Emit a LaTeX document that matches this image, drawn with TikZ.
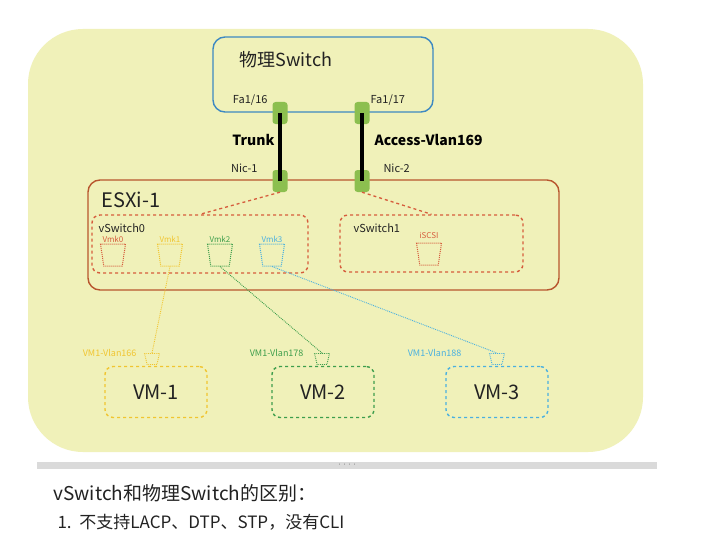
\documentclass[tikz,border=0pt]{standalone}
\usepackage{fontspec}
\setmainfont{Noto Sans CJK SC}
\usetikzlibrary{positioning,shapes.geometric}

\definecolor{bgyellow}{HTML}{F0F1B9}
\definecolor{physblue}{HTML}{3D89C2}
\definecolor{hostred}{HTML}{B8562E}
\definecolor{dashred}{HTML}{D65C3C}
\definecolor{portgreen}{HTML}{8CBF4F}
\definecolor{vmyellow}{HTML}{F0C530}
\definecolor{vmgreen}{HTML}{3E9E4C}
\definecolor{vmblue}{HTML}{4AB0E0}
\definecolor{bargray}{HTML}{DADADA}
\definecolor{inkdark}{HTML}{222222}

\begin{document}
\begin{tikzpicture}[x=1pt, y=-1pt,
  panel/.style={fill=bgyellow, rounded corners=55pt, minimum width=615pt, minimum height=423pt},
  physbox/.style={draw=physblue, line width=1.4pt, rounded corners=12pt},
  hostbox/.style={draw=hostred, line width=1.4pt, rounded corners=12pt},
  vswbox/.style={draw=dashred, dashed, line width=1.4pt, rounded corners=8pt},
  vmbox/.style={dashed, line width=1.4pt, rounded corners=8pt, minimum width=102pt, minimum height=51pt, text=inkdark, font=\fontsize{20}{22}\selectfont},
  port/.style={fill=portgreen, rounded corners=3pt, minimum width=15pt, minimum height=22pt, inner sep=0pt},
  trunkline/.style={line width=3.5pt, black},
  uplink/.style={draw=dashred, dashed, line width=1.3pt},
  vmlink/.style={densely dotted, line width=0.9pt},
  cup/.style={shape=trapezium, shape border rotate=180, trapezium angle=80, trapezium stretches=true, minimum width=25pt, minimum height=22pt, inner sep=1pt, densely dotted, line width=1pt},
  smallcup/.style={shape=trapezium, shape border rotate=180, trapezium angle=75, trapezium stretches=true, minimum width=15pt, minimum height=11pt, inner sep=1pt, densely dotted, line width=0.9pt},
  portlbl/.style={text=inkdark, font=\fontsize{11}{13}\selectfont},
  linklbl/.style={text=black, font=\bfseries\fontsize{14}{16}\selectfont},
  vmklbl/.style={inner sep=1pt, font=\fontsize{8}{9}\selectfont},
  vlanlbl/.style={font=\fontsize{9}{10}\selectfont},
  notefont/.style={text=inkdark, font=\fontsize{19}{22}\selectfont}
]
\useasboundingbox (0,0) rectangle (703,559);
\fill[white] (0,0) rectangle (703,559);

\node[panel] (panel) at (335.5,240.5) {};

\node[physbox, minimum width=220pt, minimum height=75pt] (phys) at (323,74.5) {};
\node[anchor=west, text=inkdark, font=\fontsize{18}{20}\selectfont] (physname) at (236,60) {物理Switch};

\node[hostbox, minimum width=471pt, minimum height=110pt] (esxi) at (323.5,235) {};
\node[anchor=west, text=inkdark, font=\fontsize{20}{22}\selectfont] (esxiname) at (98,200) {ESXi-1};

\node[vswbox, minimum width=216pt, minimum height=58pt] (vsw0) at (200,244) {};
\node[vswbox, minimum width=183pt, minimum height=57pt] (vsw1) at (431.5,243.5) {};
\node[anchor=west, portlbl] (vsw0name) at (95,228) {vSwitch0};
\node[anchor=west, portlbl] (vsw1name) at (350,228) {vSwitch1};

\node[port] (fa16) at (280,113) {};
\node[port] (fa17) at (362,113) {};
\node[port] (nic1) at (280,181) {};
\node[port] (nic2) at (362,181) {};
\draw[trunkline] (fa16.center) -- (nic1.center);
\draw[trunkline] (fa17.center) -- (nic2.center);

\node[portlbl, anchor=east] (fa16lbl) at (271,100) {Fa1/16};
\node[portlbl, anchor=west] (fa17lbl) at (367,100) {Fa1/17};
\node[linklbl, anchor=east] (trunklbl) at (278,140) {Trunk};
\node[linklbl, anchor=west] (accesslbl) at (371,140) {Access-Vlan169};
\node[portlbl, anchor=east] (nic1lbl) at (261,168) {Nic-1};
\node[portlbl, anchor=west] (nic2lbl) at (380,168) {Nic-2};

\draw[uplink] (nic1.south) -- (vsw0.north);
\draw[uplink] (nic2.south) -- (vsw1.north);

\node[cup, draw=dashred] (vmk0) at (113,255) {};
\node[cup, draw=vmyellow] (vmk1) at (170,255) {};
\node[cup, draw=vmgreen] (vmk2) at (220,255) {};
\node[cup, draw=vmblue] (vmk3) at (272,255) {};
\node[cup, draw=dashred] (iscsi) at (429,254) {};
\node[vmklbl, text=dashred, above=0pt of vmk0] {Vmk0};
\node[vmklbl, text=vmyellow, above=0pt of vmk1] {Vmk1};
\node[vmklbl, text=vmgreen, above=0pt of vmk2] {Vmk2};
\node[vmklbl, text=vmblue, above=0pt of vmk3] {Vmk3};
\node[vmklbl, text=dashred, above=3pt of iscsi] {iSCSI};

\node[vmbox, draw=vmyellow] (vm1) at (156,392) {VM-1};
\node[vmbox, draw=vmgreen] (vm2) at (323,392) {VM-2};
\node[vmbox, draw=vmblue] (vm3) at (497,392) {VM-3};

\node[smallcup, draw=vmyellow] (vc1) at (152,359) {};
\node[smallcup, draw=vmgreen] (vc2) at (322,359) {};
\node[smallcup, draw=vmblue] (vc3) at (497,359) {};
\node[vlanlbl, text=vmyellow, anchor=east] (vlan1) at (140,353) {VM1-Vlan166};
\node[vlanlbl, text=vmgreen, anchor=east] (vlan2) at (307,353) {VM1-Vlan178};
\node[vlanlbl, text=vmblue, anchor=east] (vlan3) at (465,353) {VM1-Vlan188};

\draw[vmlink, draw=vmyellow] (vmk1.south) -- (vc1.north);
\draw[vmlink, draw=vmgreen] (vmk2.south) -- (vc2.north);
\draw[vmlink, draw=vmblue] (vmk3.south) -- (vc3.north);

\node[fill=bargray, minimum width=620pt, minimum height=7pt, inner sep=0pt, text=gray, font=\fontsize{5}{5}\selectfont] (divider) at (347,465.5) {····};

\node[notefont, anchor=west] (note1) at (50,493) {vSwitch和物理Switch的区别：};
\node[notefont, anchor=west, font=\fontsize{17}{20}\selectfont] (note2) at (54,522) {1.\ \ 不支持LACP、DTP、STP，没有CLI};
\end{tikzpicture}
\end{document}
